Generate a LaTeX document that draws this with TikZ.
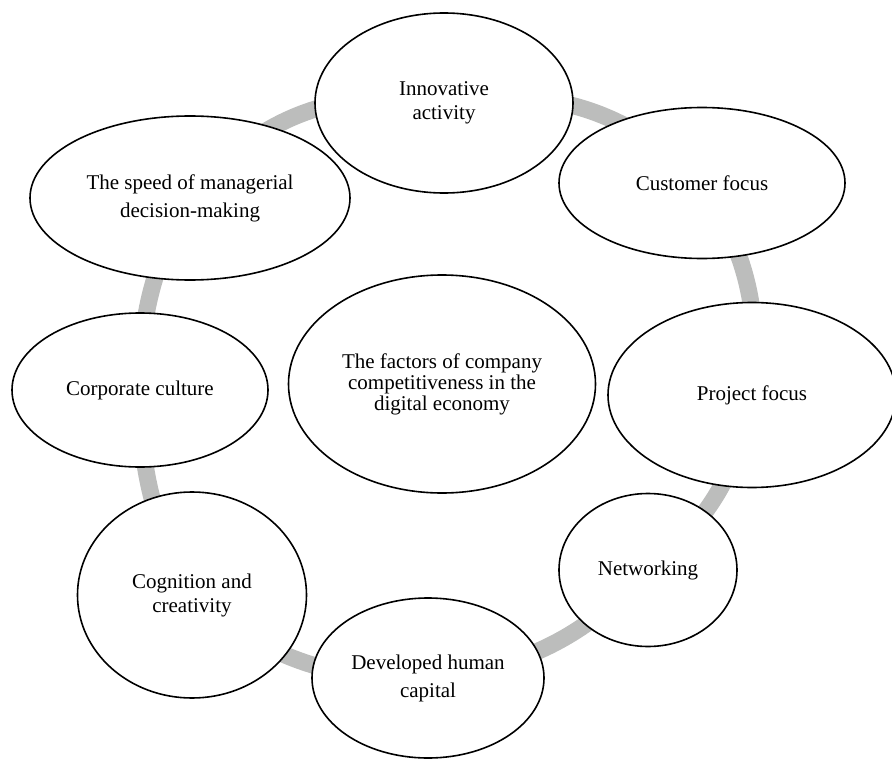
\documentclass[tikz,border=0pt]{standalone}
\usepackage{fontspec}
\setmainfont{Liberation Serif}
\usetikzlibrary{shapes.geometric,backgrounds}
\definecolor{RingGray}{RGB}{188,189,188}

\begin{document}
\begin{tikzpicture}[
    x=1pt,y=-1pt,
    factor/.style={ellipse,draw=black,line width=1.6pt,fill=white,inner sep=0pt,align=center,font={\fontsize{21}{24}\selectfont}},
    loose/.style={font={\fontsize{21}{28}\selectfont}},
    ring/.style={RingGray,line width=17pt}
  ]
    \useasboundingbox (0,0) rectangle (892,760);
    % factors round the cycle
    \node[factor,minimum width=258pt,minimum height=180pt] (innov) at (444,103) {Innovative\\activity};
    \node[factor,minimum width=286pt,minimum height=151pt] (cust) at (702,183) {Customer focus};
    \node[factor,minimum width=288pt,minimum height=185pt] (proj) at (752,395) {Project focus};
    \node[factor,minimum width=178pt,minimum height=153pt] (netw) at (648,570) {Networking};
    \node[factor,loose,minimum width=232pt,minimum height=160pt] (human) at (428,678) {Developed human\\capital};
    \node[factor,minimum width=229pt,minimum height=206pt] (cogn) at (192,595) {Cognition and\\creativity};
    \node[factor,minimum width=256pt,minimum height=154pt] (corp) at (140,390) {Corporate culture};
    \node[factor,loose,minimum width=320pt,minimum height=164pt] (speed) at (190,198) {The speed of managerial\\decision-making};
    % centre
    \node[factor,font={\fontsize{21}{21}\selectfont},minimum width=307pt,minimum height=218pt] (core) at (442,384) {The factors of company\\competitiveness in the\\digital economy};
    % grey ring behind
    \begin{scope}[on background layer]
      \draw[ring] (innov.center) to[bend left=27] (cust.center);
      \draw[ring] (cust.center) to[bend left=19] (proj.center);
      \draw[ring] (proj.center) to[bend left=20] (netw.center);
      \draw[ring] (netw.center) to[bend left=20] (human.center);
      \draw[ring] (human.center) to[bend left=21] (cogn.center);
      \draw[ring] (cogn.center) to[bend left=14] (corp.center);
      \draw[ring] (corp.center) to[bend left=14] (speed.center);
      \draw[ring] (speed.center) to[bend left=30] (innov.center);
    \end{scope}
\end{tikzpicture}
\end{document}
